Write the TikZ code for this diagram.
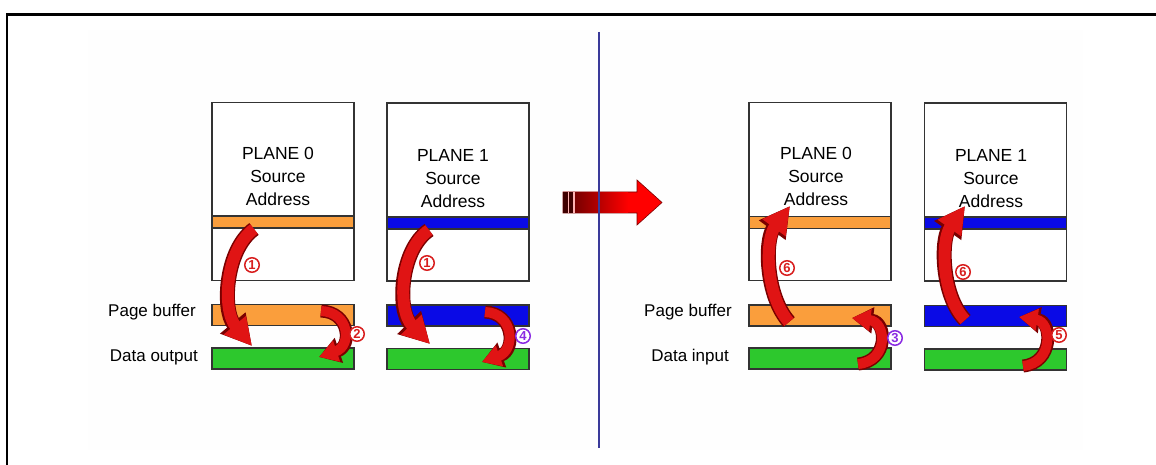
\documentclass[tikz,border=0pt]{standalone}
\usepackage{fontspec}
\setmainfont{Liberation Sans}
\usetikzlibrary{arrows.meta,calc}
\definecolor{orng}{HTML}{FA9E3C}
\definecolor{bblue}{HTML}{0A0AE6}
\definecolor{ggreen}{HTML}{2DC82D}
\definecolor{arrred}{HTML}{E01414}
\definecolor{arrdark}{HTML}{7A0000}
\definecolor{navy}{HTML}{3A3A9A}
\definecolor{edge}{HTML}{333333}
\definecolor{cpurple}{HTML}{8A2BE2}
\definecolor{cred}{HTML}{D81E1E}
\newcommand\blockarrow[1]{%
  \draw[draw=arrdark, line width=15pt, -{Triangle[length=30pt,width=31pt]}] #1;
  \draw[draw=arrred, line width=12pt, -{Triangle[length=27pt,width=27pt]}] #1;}
\newcommand\smallarrow[1]{%
  \draw[draw=arrdark, line width=13pt, -{Triangle[length=21pt,width=25pt]}] #1;
  \draw[draw=arrred, line width=10pt, -{Triangle[length=18.5pt,width=21pt]}] #1;}
\tikzset{
  planebox/.style={draw=edge, line width=1.5pt, fill=white, minimum width=142pt, minimum height=178pt, inner sep=0pt},
  stripe/.style={draw=edge, line width=1.3pt, minimum width=142pt, minimum height=12pt, inner sep=0pt},
  bar/.style={draw=edge, line width=1.3pt, minimum width=142pt, minimum height=21pt, inner sep=0pt},
  boxtext/.style={align=center, inner sep=0pt, font=\fontsize{17.5}{23}\selectfont},
  sidelabel/.style={anchor=east, inner sep=0pt, font=\fontsize{17}{20}\selectfont},
  cnum/.style={circle, draw=#1, text=#1, fill=white, line width=1.5pt, minimum size=14.5pt, inner sep=0pt, font=\fontsize{13}{13}\selectfont\bfseries},
}
\begin{document}
\begin{tikzpicture}[x=1pt,y=-1pt]
\useasboundingbox (0,0) rectangle (1156,465);
\fill[black!0.5] (88,30) rectangle (1083,450);
\draw[line width=2.5pt] (7,465) -- (7,14.5) -- (1156,14.5);

% ---------- left half ----------
\node[planebox] (lp0) at (283,191.5) {};
\node[stripe, fill=orng] (ls0) at (283,222) {};
\node[boxtext] (lt0) at (278,176) {PLANE 0\\Source\\Address};
\node[bar, fill=orng] (lb0) at (283,315) {};
\node[bar, fill=ggreen] (ld0) at (283,358.5) {};

\node[planebox] (lp1) at (458,192) {};
\node[stripe, fill=bblue] (ls1) at (458,223) {};
\node[boxtext] (lt1) at (453,179) {PLANE 1\\Source\\Address};
\node[bar, fill=bblue] (lb1) at (458,315.5) {};
\node[bar, fill=ggreen] (ld1) at (458,359) {};

\node[sidelabel] (lpb) at (196,312) {Page buffer};
\node[sidelabel] (ldo) at (198,357) {Data output};

\blockarrow{(254,229) .. controls (225,250) and (222,310) .. (252,346)}
\smallarrow{(321,311) .. controls (350,312) and (352,346) .. (319,357)}
\blockarrow{(429,230) .. controls (400,250) and (397,310) .. (430,344)}
\smallarrow{(485,312) .. controls (514,313) and (516,350) .. (482,362)}

\node[cnum=cred] (c1a) at (252,265) {1};
\node[cnum=cred] (c2) at (357,334) {2};
\node[cnum=cred] (c1b) at (427,263) {1};
\node[cnum=cpurple] (c4) at (523,336) {4};

% ---------- big arrow ----------
\fill[red, draw=arrdark, line width=0.6pt]
  (563,192) -- (637,192) -- (637,180) -- (662,202.5) -- (637,225) -- (637,213) -- (563,213) -- cycle;
\shade[left color=arrdark, right color=red] (575,192.4) rectangle (628,212.6);
\fill[black!75!red] (563.3,192.4) rectangle (575,212.6);
\fill[red!30!white] (567.5,192.4) rectangle (569,212.6);
\fill[red!30!white] (572.5,192.4) rectangle (574.5,212.6);
\coordinate (vtop) at (599,32);
\coordinate (vbot) at (599,448);
\draw[navy, line width=2pt] (vtop) -- (vbot);

% ---------- right half ----------
\node[planebox] (rp0) at (820,191.5) {};
\node[stripe, fill=orng] (rs0) at (820,222.5) {};
\node[boxtext] (rt0) at (816,176) {PLANE 0\\Source\\Address};
\node[bar, fill=orng] (rb0) at (820,315.5) {};
\node[bar, fill=ggreen] (rd0) at (820,358.5) {};

\node[planebox] (rp1) at (995.5,192) {};
\node[stripe, fill=bblue] (rs1) at (995.5,223) {};
\node[boxtext] (rt1) at (991,179) {PLANE 1\\Source\\Address};
\node[bar, fill=bblue] (rb1) at (995.5,316) {};
\node[bar, fill=ggreen] (rd1) at (995.5,359.5) {};

\node[sidelabel] (rpb) at (732,312) {Page buffer};
\node[sidelabel] (rdi) at (729,357) {Data input};

\blockarrow{(789,322) .. controls (765,295) and (765,240) .. (790,206)}
\smallarrow{(858,364) .. controls (889,361) and (887,322) .. (852,318)}
\blockarrow{(965,320) .. controls (941,295) and (941,240) .. (965,206)}
\smallarrow{(1023,366) .. controls (1054,363) and (1052,322) .. (1019,317)}

\node[cnum=cred] (c6a) at (787,268) {6};
\node[cnum=cpurple] (c3) at (895,338) {3};
\node[cnum=cred] (c6b) at (963,272) {6};
\node[cnum=cred] (c5) at (1059,335) {5};
\end{tikzpicture}
\end{document}
